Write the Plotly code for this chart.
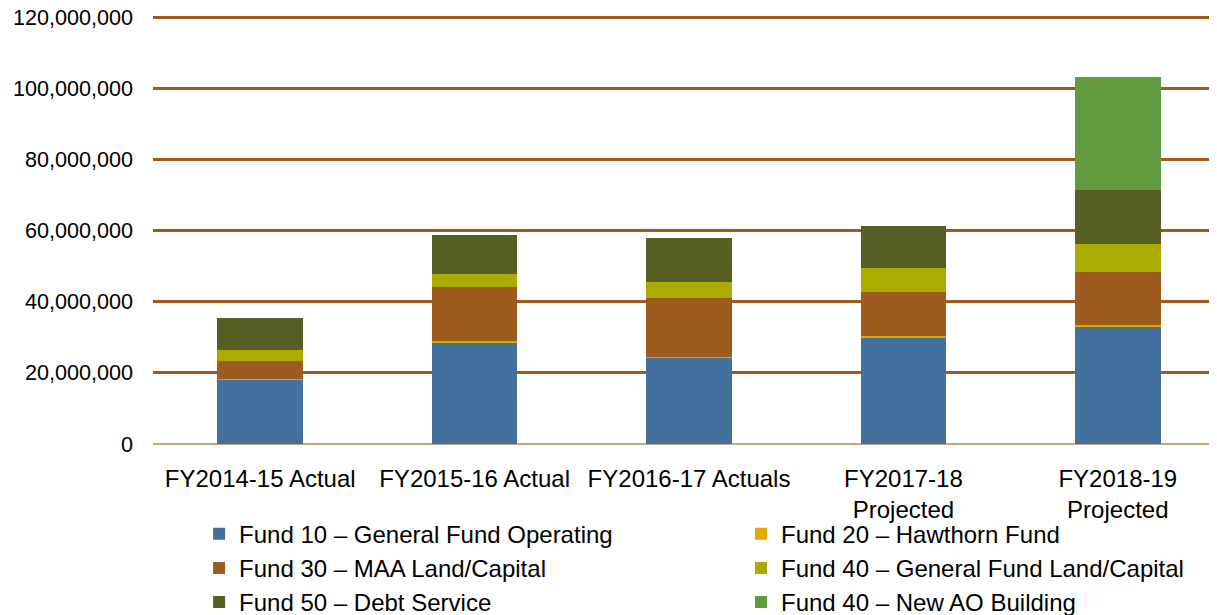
import plotly.graph_objects as go

# Datos
anios = ["FY2014-15 Actual", "FY2015-16 Actual", "FY2016-17 Actuals",
         "FY2017-18<br>Projected", "FY2018-19<br>Projected"]

fondo10 = [18_200_000, 28_600_000, 24_300_000, 30_000_000, 33_100_000]
fondo20 = [100_000, 300_000, 200_000, 300_000, 300_000]
fondo30 = [5_100_000, 15_300_000, 16_600_000, 12_500_000, 14_900_000]
fondo40 = [3_100_000, 3_600_000, 4_400_000, 6_800_000, 7_800_000]
fondo50 = [8_900_000, 10_900_000, 12_500_000, 11_700_000, 15_300_000]
fondo40_ao = [0, 0, 0, 0, 31_700_000]

# (nombre, valores, color, leyenda) - la leyenda va en dos columnas
series = [
    ("Fund 10 \u2013 General Fund Operating", fondo10, "#43719D", "legend"),
    ("Fund 20 \u2013 Hawthorn Fund", fondo20, "#DFA900", "legend2"),
    ("Fund 30 \u2013 MAA Land/Capital", fondo30, "#9E5B1E", "legend"),
    ("Fund 40 \u2013 General Fund Land/Capital", fondo40, "#ABAB00", "legend2"),
    ("Fund 50 \u2013 Debt Service", fondo50, "#555F23", "legend"),
    ("Fund 40 \u2013 New AO Building", fondo40_ao, "#629A40", "legend2"),
]

fig = go.Figure()
for nombre, valores, color, ley in series:
    fig.add_trace(go.Bar(x=anios, y=valores, name=nombre, legend=ley,
                         marker=dict(color=color, line=dict(width=0))))

estilo_leyenda = dict(orientation="v", y=-0.158, xanchor="left", yanchor="top",
                      traceorder="normal", tracegroupgap=0,
                      itemsizing="constant", font=dict(size=24),
                      bgcolor="rgba(0,0,0,0)")

fig.update_layout(
    barmode="stack",
    bargap=0.6,
    width=1217, height=615,
    margin=dict(l=145, r=0, t=8, b=179, autoexpand=False),
    plot_bgcolor="white",
    paper_bgcolor="white",
    font=dict(family="Liberation Sans, Arial, sans-serif", size=22, color="#000000"),
    legend=dict(x=0.043, **estilo_leyenda),
    legend2=dict(x=0.5485, **estilo_leyenda),
    showlegend=True,
)

fig.update_yaxes(range=[0, 120_300_000], dtick=20_000_000, tickformat=",d",
                 showgrid=True, gridcolor="#9E5B1E", gridwidth=2.5,
                 zeroline=True, zerolinecolor="#C9A57E", zerolinewidth=2,
                 ticks="", ticklabelstandoff=19, ticklabeloverflow="allow",
                 tickfont=dict(size=21.6))
fig.update_xaxes(showgrid=False, showline=False, ticks="", ticklabelstandoff=18,
                 tickfont=dict(size=24))

fig.write_html("out.html")
